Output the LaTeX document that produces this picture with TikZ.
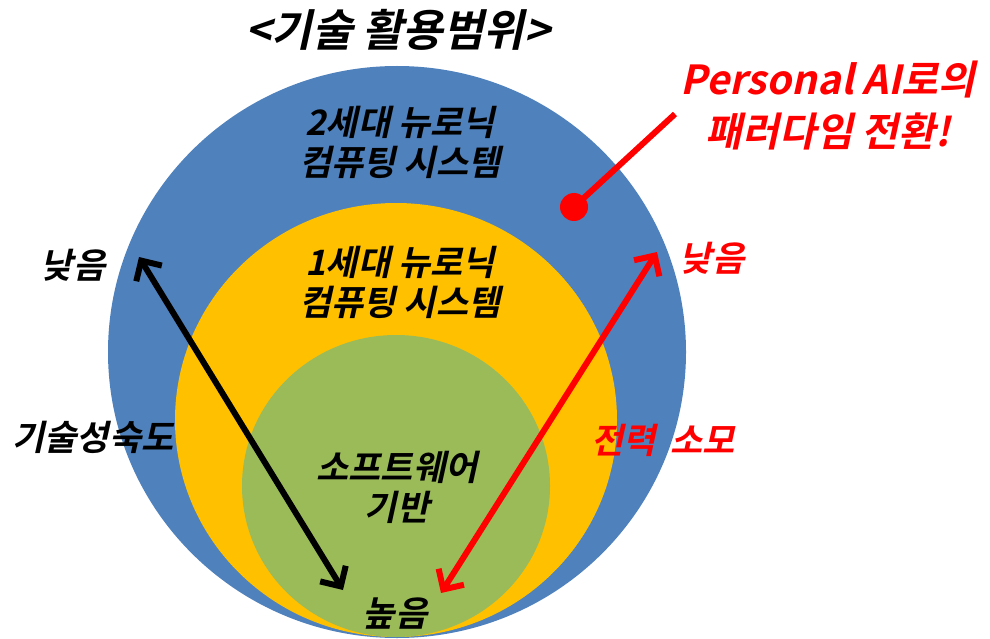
\documentclass[tikz,border=0pt]{standalone}
\usepackage{fontspec}
\newfontfamily\kofont{Noto Sans CJK KR Bold}[FakeSlant=0.22]
\usetikzlibrary{arrows.meta,shapes.geometric}

\definecolor{outerblue}{RGB}{79,129,189}
\definecolor{midgold}{RGB}{255,192,0}
\definecolor{innergreen}{RGB}{155,187,89}
\definecolor{hotred}{RGB}{255,0,0}

\begin{document}
\begin{tikzpicture}[
    x=1pt, y=-1pt,
    disc/.style={ellipse, inner sep=0pt},
    ttl/.style={font=\kofont\fontsize{44}{48}\selectfont, inner sep=0pt},
    lbl/.style={font=\kofont\fontsize{35}{40}\selectfont, align=center, inner sep=0pt},
    side/.style={font=\kofont\fontsize{35}{40}\selectfont, inner sep=0pt},
    callout/.style={font=\kofont\fontsize{40}{52}\selectfont, align=center, inner sep=0pt, text=hotred},
    dbl/.style={{Straight Barb[length=15pt,width=30pt]}-{Straight Barb[length=15pt,width=30pt]},
                line width=6pt},
  ]
  \useasboundingbox (0,0) rectangle (990,639);

  % ===== nested discs =====
  \node[disc, fill=outerblue, minimum width=578pt, minimum height=572pt] (gen2) at (397,352) {};
  \node[disc, fill=midgold, minimum width=442pt, minimum height=434pt] (gen1) at (396,420) {};
  \node[disc, fill=innergreen, minimum width=308pt, minimum height=302pt] (sw) at (396,486) {};

  % ===== texts =====
  \node[ttl] (title) at (398,30) {<기술 활용범위>};
  \node[lbl] (gen2txt) at (400,142) {2세대 뉴로닉\\컴퓨팅 시스템};
  \node[lbl] (gen1txt) at (400,282) {1세대 뉴로닉\\컴퓨팅 시스템};
  \node[lbl] (swtxt) at (397,487) {소프트웨어\\기반};
  \node[side] (lowL) at (73,265) {낮음};
  \node[side] (maturity) at (93,437) {기술성숙도};
  \node[side] (high) at (395,614) {높음};
  \node[side, text=hotred] (lowR) at (712,258) {낮음};
  \node[side, text=hotred] (power) at (663,440) {전력\hspace{14pt}소모};
  \node[callout] (shift) at (828,106) {Personal AI로의\\패러다임 전환!};

  % ===== arrows =====
  \coordinate (matTop) at (139,257);
  \coordinate (matBot) at (343,590);
  \coordinate (powTop) at (657,252);
  \coordinate (powBot) at (441,593);
  \draw[dbl] (matTop) -- (matBot);
  \draw[dbl, hotred] (powTop) -- (powBot);

  % callout pointer
  \node[circle, fill=hotred, minimum size=28pt, inner sep=0pt] (dot) at (574,207) {};
  \coordinate (tail) at (675,114);
  \draw[line width=6pt, hotred] (dot.center) -- (tail);

\end{tikzpicture}
\end{document}
